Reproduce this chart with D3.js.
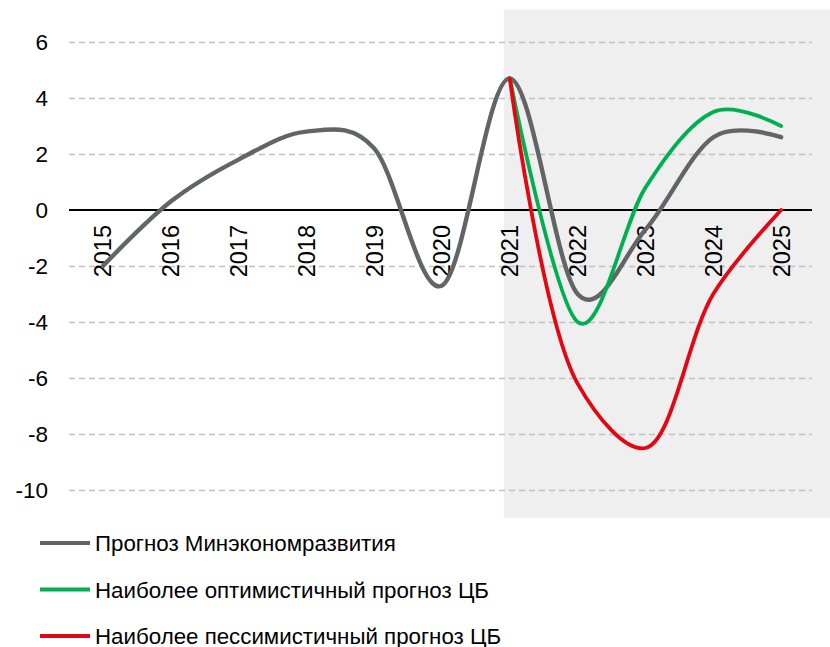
<!DOCTYPE html>
<html>
<head>
<meta charset="utf-8">
<script src="https://cdn.jsdelivr.net/npm/d3@7"></script>
<style>
  body { margin: 0; background: #fff; }
  svg { font-family: "Liberation Sans", Arial, sans-serif; }
  .grid line { stroke: #c0c0c0; stroke-width: 1.5; stroke-dasharray: 6 4; }
  .grid path { display: none; }
  .line { fill: none; stroke-linejoin: round; stroke-linecap: round; }
</style>
</head>
<body>
<div id="chart"></div>
<script>
// categories
const years = ["2015", "2016", "2017", "2018", "2019", "2020", "2021", "2022", "2023", "2024", "2025"];
const yTicks = [6, 4, 2, 0, -2, -4, -6, -8, -10];

// series values
const minEcon = [-2.0, 0.3, 1.8, 2.8, 2.2, -2.7, 4.7, -3.0, -0.7, 2.6, 2.6];
const cbOptimistic = [null, null, null, null, null, null, 4.7, -4.0, 0.8, 3.5, 3.0];
const cbPessimistic = [null, null, null, null, null, null, 4.7, -6.2, -8.5, -3.0, 0.0];

const seriesNames = ["Прогноз Минэкономразвития", "Наиболее оптимистичный прогноз ЦБ", "Наиболее пессимистичный прогноз ЦБ"];
const seriesColors = ["#636466", "#00b050", "#e30613"];
const forecastStart = "2021";

const width = 830, height = 647;
const plot = { left: 69, right: 815, gridRight: 812 };

const svg = d3.select("#chart").append("svg")
  .attr("width", width)
  .attr("height", height);

const x = d3.scalePoint()
  .domain(years)
  .range([plot.left, plot.right])
  .padding(0.5);

const y = d3.scaleLinear()
  .domain([-10, 6])
  .range([490, 42]);

// forecast shading
svg.append("rect")
  .attr("x", x(forecastStart) - 6)
  .attr("y", y(7.15))
  .attr("width", width - (x(forecastStart) - 6))
  .attr("height", y(-11) - y(7.15))
  .attr("fill", "#efefef");

// gridlines
svg.append("g")
  .attr("class", "grid")
  .attr("transform", `translate(${plot.left},0)`)
  .call(d3.axisLeft(y).tickValues(yTicks.filter(d => d !== 0)).tickSize(-(plot.gridRight - plot.left)).tickFormat(""));

// y labels
svg.append("g")
  .selectAll("text")
  .data(yTicks)
  .join("text")
  .attr("x", 48)
  .attr("y", d => y(d))
  .attr("dy", "0.36em")
  .attr("text-anchor", "end")
  .attr("font-size", 22.5)
  .attr("fill", "#000")
  .text(d => d);

// zero line
svg.append("line")
  .attr("x1", plot.left)
  .attr("x2", plot.gridRight)
  .attr("y1", y(0))
  .attr("y2", y(0))
  .attr("stroke", "#000")
  .attr("stroke-width", 2);

// year labels, rotated
svg.append("g")
  .selectAll("text")
  .data(years)
  .join("text")
  .attr("transform", d => `translate(${x(d)},${y(0) + 15}) rotate(-90)`)
  .attr("dy", "0.36em")
  .attr("text-anchor", "end")
  .attr("font-size", 23.5)
  .attr("fill", "#000")
  .text(d => d);

// lines - excel-like smoothing
const curveAlpha = [0, 0, 0.5];
const series = [minEcon, cbOptimistic, cbPessimistic];
series.forEach((vals, i) => {
  const line = d3.line()
    .defined(d => d.v !== null)
    .x(d => x(d.year))
    .y(d => y(d.v))
    .curve(d3.curveCatmullRom.alpha(curveAlpha[i]));

  svg.append("path")
    .datum(years.map((yr, j) => ({ year: yr, v: vals[j] })))
    .attr("class", "line")
    .attr("stroke", seriesColors[i])
    .attr("stroke-width", i === 0 ? 4.4 : 3.8)
    .attr("d", line);
});

// legend
const legend = svg.append("g");
seriesNames.forEach((name, i) => {
  const ly = 543 + i * 46.5;
  legend.append("line")
    .attr("x1", 40).attr("x2", 90)
    .attr("y1", ly).attr("y2", ly)
    .attr("stroke", seriesColors[i])
    .attr("stroke-width", 4);
  legend.append("text")
    .attr("x", 95)
    .attr("y", ly)
    .attr("dy", "0.36em")
    .attr("font-size", 22.3)
    .attr("fill", "#000")
    .text(name);
});
</script>
</body>
</html>
